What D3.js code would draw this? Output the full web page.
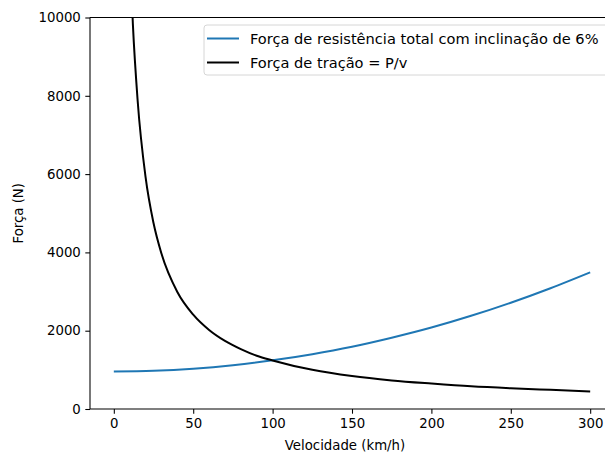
<!DOCTYPE html>
<html>
<head>
<meta charset="utf-8">
<script src="https://cdn.jsdelivr.net/npm/d3@7"></script>
<style>
  body { margin: 0; background: #fff; }
  text { font-family: "DejaVu Sans", sans-serif; }
</style>
</head>
<body>
<svg id="chart" width="605" height="454" viewBox="0 0 605 454"></svg>
<script>
// values
const resistSpeed = [0, 25, 50, 75, 100, 125, 150, 175, 200, 225, 250, 275, 300]
const resistForce = [960, 978, 1030, 1118, 1243, 1400, 1590, 1820, 2080, 2380, 2715, 3085, 3490]

const tractSpeed = [10, 12, 15, 20, 25, 30, 40, 50, 60, 70, 80, 90, 100, 125, 150, 175, 200, 225, 250, 275, 300]
const tractForce = [11800, 9830, 7880, 5920, 4750, 3970, 2990, 2410, 2020, 1740, 1530, 1360, 1240, 1000, 840, 730, 650, 580, 530, 490, 450]

const xTicks = [0, 50, 100, 150, 200, 250, 300]
const yTicks = [0, 2000, 4000, 6000, 8000, 10000]

const legendLabels = ["Força de resistência total com inclinação de 6%", "Força de tração = P/v"]
const colors = ["#1f77b4", "#000000"]

const svg = d3.select("#chart")
const plotLeft = 90, plotRight = 614, plotTop = 17.5, plotBottom = 409

const x = d3.scaleLinear().domain([-15, 315]).range([plotLeft, plotRight])
const y = d3.scaleLinear().domain([0, 10000]).range([plotBottom, plotTop])

svg.append("defs").append("clipPath").attr("id", "plotclip")
    .append("rect")
    .attr("x", plotLeft).attr("y", plotTop)
    .attr("width", plotRight - plotLeft).attr("height", plotBottom - plotTop)

const series = [
    resistSpeed.map((v, i) => ({v: v, f: resistForce[i]})),
    tractSpeed.map((v, i) => ({v: v, f: tractForce[i]}))
]

const line = d3.line()
    .x(d => x(d.v))
    .y(d => y(d.f))
    .curve(d3.curveMonotoneX)

const plot = svg.append("g").attr("clip-path", "url(#plotclip)")
plot.selectAll("path.series")
    .data(series)
    .enter()
    .append("path")
    .attr("class", "series")
    .attr("d", line)
    .attr("fill", "none")
    .attr("stroke", (d, i) => colors[i])
    .attr("stroke-width", 2)

// axes
const xAxis = svg.append("g")
    .attr("transform", `translate(0,${plotBottom})`)
    .call(d3.axisBottom(x).tickValues(xTicks).tickFormat(d3.format("d"))
        .tickSize(4.7).tickPadding(4.5).tickSizeOuter(0))
const yAxis = svg.append("g")
    .attr("transform", `translate(${plotLeft},0)`)
    .call(d3.axisLeft(y).tickValues(yTicks).tickFormat(d3.format("d"))
        .tickSize(4.7).tickPadding(4.5).tickSizeOuter(0))

for (const ax of [xAxis, yAxis]) {
    ax.selectAll("text").attr("font-size", 13.3).attr("fill", "#000")
        .style("font-family", "'DejaVu Sans', sans-serif")
    ax.selectAll("line").attr("stroke", "#000").attr("stroke-width", 1.07)
    ax.select(".domain").remove()
}

// spines
svg.append("line").attr("x1", plotLeft).attr("x2", plotLeft).attr("y1", plotTop).attr("y2", plotBottom)
    .attr("stroke", "#000").attr("stroke-width", 1.07)
svg.append("line").attr("x1", plotLeft).attr("x2", plotRight).attr("y1", plotBottom).attr("y2", plotBottom)
    .attr("stroke", "#000").attr("stroke-width", 1.07)
svg.append("line").attr("x1", plotLeft).attr("x2", plotRight).attr("y1", plotTop).attr("y2", plotTop)
    .attr("stroke", "#000").attr("stroke-width", 1.07)

// axis titles
svg.append("text")
    .attr("x", 345).attr("y", 450)
    .attr("text-anchor", "middle")
    .attr("font-size", 13.3)
    .text("Velocidade (km/h)")
svg.append("text")
    .attr("transform", `translate(23,${(plotTop + plotBottom) / 2}) rotate(-90)`)
    .attr("text-anchor", "middle")
    .attr("font-size", 13.3)
    .text("Força (N)")

// legend
const legend = svg.append("g")
legend.append("rect")
    .attr("x", 204).attr("y", 25)
    .attr("width", 404).attr("height", 50)
    .attr("rx", 3)
    .attr("fill", "#fff").attr("fill-opacity", 0.8)
    .attr("stroke", "#d6d6d6")
const rows = legend.selectAll("g.row")
    .data(legendLabels)
    .enter()
    .append("g")
    .attr("class", "row")
    .attr("transform", (d, i) => `translate(0,${38.5 + i * 24})`)
rows.append("line")
    .attr("x1", 207).attr("x2", 239)
    .attr("stroke", (d, i) => colors[i])
    .attr("stroke-width", 2)
rows.append("text")
    .attr("x", 250).attr("dy", "0.35em")
    .attr("font-size", 14.6)
    .text(d => d)
</script>
</body>
</html>
